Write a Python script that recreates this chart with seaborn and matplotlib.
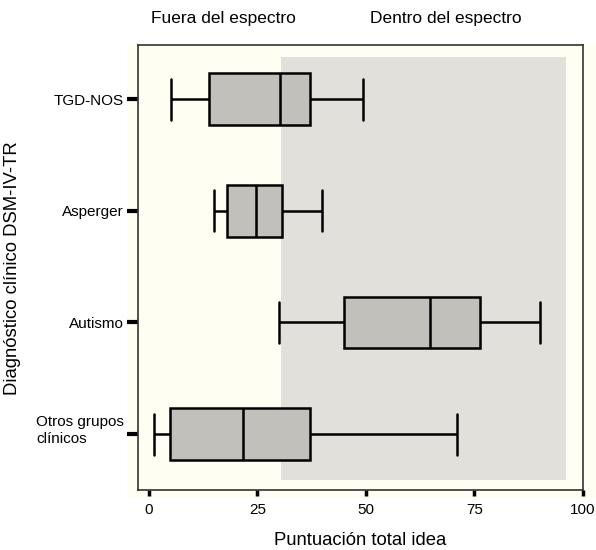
import numpy as np
import pandas as pd
import matplotlib
matplotlib.use("Agg")
import matplotlib.pyplot as plt
import matplotlib.transforms as mtransforms
import seaborn as sns
from matplotlib.patches import Rectangle

# ---- data (five-number summaries) ----
categories = ["TGD-NOS", "Asperger", "Autismo", "Otros grupos\nclínicos"]
tgd_nos = [5.0, 13.9, 30.3, 37.1, 49.3]
asperger = [15.1, 18.1, 24.7, 30.7, 39.9]
autismo = [30.0, 44.9, 64.7, 76.3, 90.2]
otros = [1.2, 4.9, 21.8, 37.1, 71.0]
x_ticks = [0, 25, 50, 75, 100]
cutoff = 30.5
upper_region = 96.0

series = [tgd_nos, asperger, autismo, otros]
df = pd.DataFrame({
    "grupo": np.repeat(categories, [len(s) for s in series]),
    "puntuacion": np.concatenate(series),
})

sns.set_theme(style="white")
plt.rcParams["font.family"] = ["Liberation Sans", "DejaVu Sans"]
plt.rcParams["text.color"] = "black"
plt.rcParams["axes.labelcolor"] = "black"
plt.rcParams["xtick.color"] = "black"
plt.rcParams["ytick.color"] = "black"

fig = plt.figure(figsize=(5.96, 5.5), dpi=100)
fig.patch.set_facecolor("white")
# cream panel behind the axes
cream = Rectangle((127 / 596, 1 - 498 / 550), 1 - 127 / 596, (498 - 43) / 550,
                  transform=fig.transFigure, facecolor="#FFFEF2",
                  edgecolor="none", zorder=-10)
fig.patches.append(cream)
ax = fig.add_axes([138 / 596, 1 - 490 / 550, (583 - 138) / 596, (490 - 45) / 550])
ax.set_zorder(1)
ax.set_facecolor("#FFFEF2")

# grey "inside spectrum" region
ax.add_patch(Rectangle((cutoff, -0.377), upper_region - cutoff, 3.414 + 0.377,
                       facecolor="#E1E0DA", edgecolor="none", zorder=0))

sns.boxplot(data=df, x="puntuacion", y="grupo", order=categories, orient="h",
            whis=(0, 100), width=0.46, color="#C1C0BB", saturation=1,
            linecolor="black", linewidth=1.8, capwidths=0.37, ax=ax, zorder=2)

ax.set_xlim(-2.5, 100)
ax.set_ylim(3.5, -0.485)
ax.set_xticks(x_ticks)
ax.set_xticklabels([str(t) for t in x_ticks])

for s in ax.spines.values():
    s.set_visible(True)
    s.set_color("#333333")
    s.set_linewidth(1.2)

ax.tick_params(axis="x", direction="out", length=4.5, width=2.5, color="black",
               labelsize=11, pad=5, bottom=True, labelcolor="black")
ax.tick_params(axis="y", direction="out", length=8, width=3, color="black",
               labelsize=11, pad=2, left=True, labelcolor="black")
for lab in ax.get_yticklabels():
    if "\n" in lab.get_text():
        lab.set_multialignment("left")
        lab.set_transform(lab.get_transform() +
                          mtransforms.ScaledTranslation(0, 4.5 / 72, fig.dpi_scale_trans))

ax.set_xlabel("Puntuación total idea", fontsize=13.3, labelpad=11)
ax.set_ylabel("Diagnóstico clínico DSM-IV-TR", fontsize=13.3)
ax.yaxis.set_label_coords((21 - 138) / 445, 0.499)

fig.text(223 / 596, 1 - 18 / 550, "Fuera del espectro", ha="center", va="center", fontsize=12.5)
fig.text(446 / 596, 1 - 18 / 550, "Dentro del espectro", ha="center", va="center", fontsize=12.5)

fig.savefig("out.png", dpi=100)
